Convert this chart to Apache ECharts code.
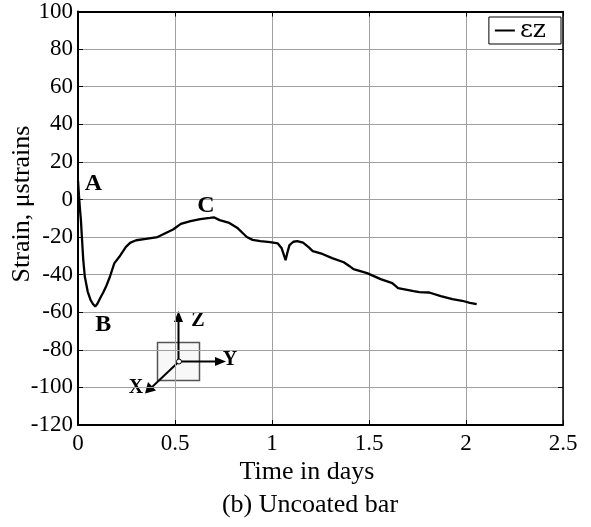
<!DOCTYPE html>
<html>
<head>
<meta charset="utf-8">
<script src="https://cdn.jsdelivr.net/npm/echarts@6/dist/echarts.min.js"></script>
<style>html,body{margin:0;padding:0;background:#fff}#c{width:591px;height:527px}</style>
</head>
<body>
<div id="c"></div>
<script>
const timeDays = [0.000,0.005,0.010,0.015,0.020,0.027,0.035,0.050,0.065,0.076,0.089,0.100,0.118,0.130,0.144,0.165,0.187,0.213,0.247,0.270,0.300,0.350,0.410,0.450,0.490,0.500,0.530,0.580,0.630,0.680,0.700,0.730,0.780,0.820,0.850,0.870,0.900,0.940,0.990,1.030,1.050,1.070,1.080,1.090,1.110,1.130,1.160,1.190,1.210,1.260,1.310,1.370,1.400,1.420,1.490,1.560,1.620,1.650,1.730,1.760,1.810,1.870,1.930,1.980,2.020,2.055];
const strainZ = [10,2,-5,-11,-20,-32,-41,-49,-53.5,-55.5,-57,-55.5,-51.8,-49.5,-46.5,-41,-34,-30.5,-25.2,-23,-21.7,-21,-20,-18,-16,-15.5,-13,-11.5,-10.5,-9.8,-9.5,-11,-12.5,-15,-18,-20,-21.5,-22.2,-22.7,-23.4,-26,-32.3,-28,-24.3,-22.5,-22.2,-23,-25.5,-27.5,-29,-31.2,-33.4,-35.5,-37.1,-39.2,-42.4,-44.5,-47.2,-48.8,-49.3,-49.5,-51.4,-53,-53.9,-55,-55.7];
const xTicks = [0, 0.5, 1, 1.5, 2, 2.5];
const yTicks = [-120,-100,-80,-60,-40,-20,0,20,40,60,80,100];
const pointLabels = ['A','B','C'];
const pointX = [0.080,0.130,0.659];
const pointY = [8.1,-66.8,-3.5];
const seriesName = 'εz';
const xTitle = 'Time in days';
const yTitle = 'Strain, μstrains';
const caption = '(b) Uncoated bar';

const serif = 'Liberation Serif';
const chart = echarts.init(document.getElementById('c'), null, {renderer:'canvas'});
const tickStyle = {show:true, inside:true, length:5, lineStyle:{color:'#000', width:1}};
const axisLine = {show:true, onZero:false, lineStyle:{color:'#000', width:2}};
const split = {show:true, lineStyle:{color:'#a0a0a0', width:1}};
const tickLabel = {show:true, fontFamily:serif, fontSize:23, color:'#000'};

chart.setOption({
  animation:false,
  backgroundColor:'#fff',
  textStyle:{fontFamily:serif, color:'#000'},
  grid:{left:78, top:11, right:28, bottom:102, containLabel:false},
  legend:{
    data:[{name:seriesName, icon:'rect'}], right:30, top:17, orient:'horizontal',
    padding:[1,15,1,6], borderColor:'#000', borderWidth:1, backgroundColor:'#fff',
    itemWidth:20, itemHeight:2, itemGap:0,
    itemStyle:{color:'#000'}, lineStyle:{width:0},
    textStyle:{fontFamily:'DejaVu Serif', fontSize:25, color:'#000', padding:[0,0,0,0]}
  },
  xAxis:[
    {type:'value', min:xTicks[0], max:xTicks[xTicks.length-1], interval:0.5, position:'bottom',
     axisLine:axisLine, axisTick:tickStyle, splitLine:split,
     axisLabel:Object.assign({margin:7}, tickLabel)},
    {type:'value', min:xTicks[0], max:xTicks[xTicks.length-1], interval:0.5, position:'top',
     axisLine:axisLine, axisTick:tickStyle, splitLine:{show:false}, axisLabel:{show:false}}
  ],
  yAxis:[
    {type:'value', min:yTicks[0], max:yTicks[yTicks.length-1], interval:20, position:'left',
     axisLine:axisLine, axisTick:tickStyle, splitLine:split,
     axisLabel:Object.assign({margin:5}, tickLabel)},
    {type:'value', min:yTicks[0], max:yTicks[yTicks.length-1], interval:20, position:'right',
     axisLine:{show:true, onZero:false, lineStyle:{color:'#000', width:1.5}}, axisTick:tickStyle, splitLine:{show:false}, axisLabel:{show:false}}
  ],
  series:[{
    name:seriesName, type:'line', xAxisIndex:0, yAxisIndex:0,
    data:timeDays.map((t,i)=>[t,strainZ[i]]),
    symbol:'none', smooth:false,
    lineStyle:{color:'#000', width:2.3}, itemStyle:{color:'#000'},
    markPoint:{
      symbol:'circle', symbolSize:0, silent:true,
      label:{show:true, position:'inside', fontFamily:serif, fontWeight:'bold', fontSize:24, color:'#000',
             formatter:p=>p.name},
      data:pointLabels.map((n,i)=>({name:n, coord:[pointX[i], pointY[i]]}))
    }
  }],
  graphic:[
    {type:'text', x:307, y:472, style:{text:xTitle, fontFamily:serif, fontSize:26, fill:'#000', align:'center', verticalAlign:'middle'}},
    {type:'text', x:310, y:505, style:{text:caption, fontFamily:serif, fontSize:26, fill:'#000', align:'center', verticalAlign:'middle'}},
    {type:'text', x:22, y:204, rotation:Math.PI/2, style:{text:yTitle, fontFamily:serif, fontSize:26, fill:'#000', align:'center', verticalAlign:'middle'}},
    {type:'rect', shape:{x:157.5, y:342.5, width:42, height:38}, style:{fill:'#f8f8f8', stroke:'#555', lineWidth:1.5}},
    {type:'line', shape:{x1:178.5, y1:361.5, x2:178.5, y2:320}, style:{stroke:'#000', lineWidth:2}},
    {type:'polygon', shape:{points:[[178.5,311],[174,322],[183,322]]}, style:{fill:'#000'}},
    {type:'line', shape:{x1:179, y1:361.5, x2:217, y2:361.5}, style:{stroke:'#000', lineWidth:2}},
    {type:'polygon', shape:{points:[[226,361.5],[215,357],[215,366]]}, style:{fill:'#000'}},
    {type:'line', shape:{x1:179, y1:361.5, x2:151, y2:388}, style:{stroke:'#000', lineWidth:2}},
    {type:'polygon', shape:{points:[[145,393.5],[148,382],[156,390.5]]}, style:{fill:'#000'}},
    {type:'circle', shape:{cx:179, cy:361.5, r:2.5}, style:{fill:'#fff', stroke:'#000', lineWidth:1}},
    {type:'text', x:198, y:321, style:{text:'Z', fontFamily:serif, fontWeight:'bold', fontSize:20, fill:'#000', align:'center', verticalAlign:'middle'}},
    {type:'text', x:230, y:360, style:{text:'Y', fontFamily:serif, fontWeight:'bold', fontSize:20, fill:'#000', align:'center', verticalAlign:'middle'}},
    {type:'text', x:136, y:388, style:{text:'X', fontFamily:serif, fontWeight:'bold', fontSize:20, fill:'#000', align:'center', verticalAlign:'middle'}}
  ]
});
</script>
</body>
</html>
